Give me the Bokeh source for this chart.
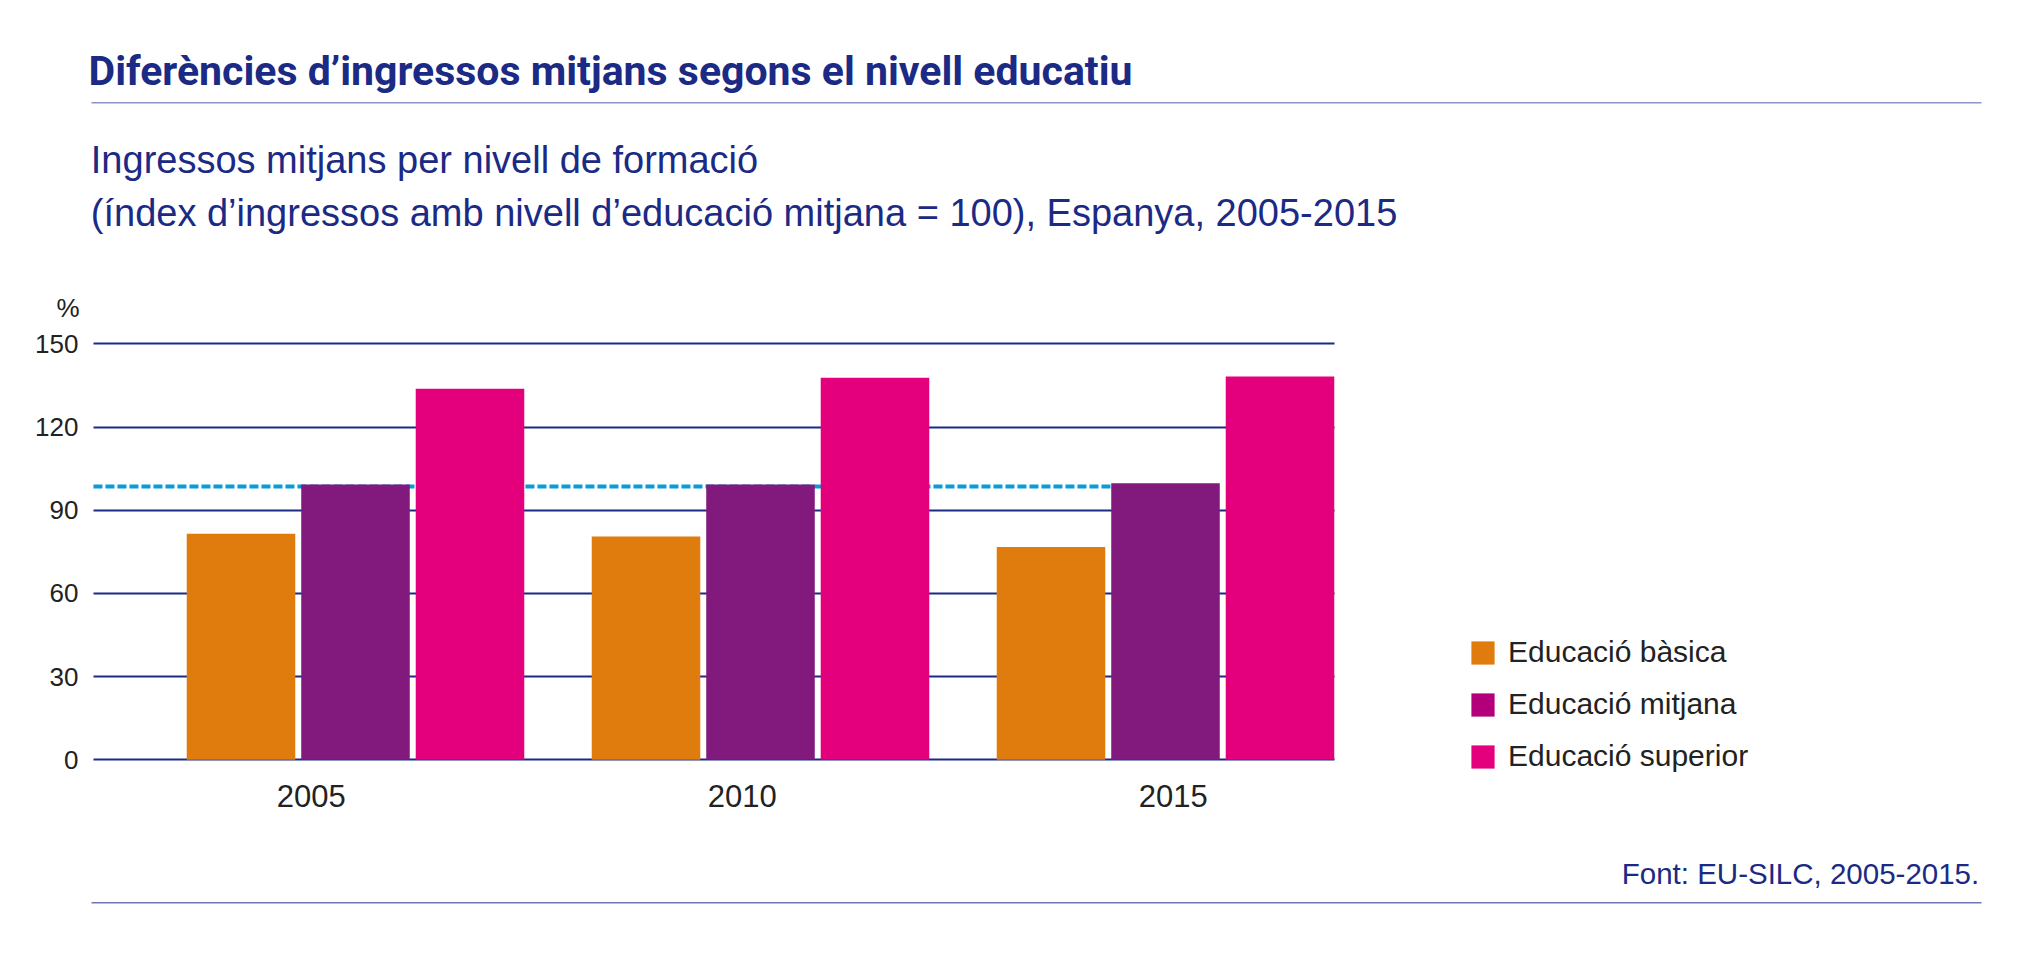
from bokeh.plotting import figure
from bokeh.models import (Range1d, FixedTicker, CustomJSTickFormatter,
                          Legend, LegendItem, ColumnDataSource)
from bokeh.core.properties import value
from bokeh.embed import file_html
from bokeh.resources import INLINE

# ---------------- data ----------------
years = ["2005", "2010", "2015"]
series_names = ["Educació bàsica", "Educació mitjana", "Educació superior"]
basica = [81.5, 80.5, 76.7]
mitjana = [99.3, 99.3, 99.7]
superior = [133.8, 137.8, 138.2]
reference_level = 98.6
y_ticks = [0, 30, 60, 90, 120, 150]

title_text = "Diferències d’ingressos mitjans segons el nivell educatiu"
subtitle_1 = "Ingressos mitjans per nivell de formació"
subtitle_2 = "(índex d’ingressos amb nivell d’educació mitjana = 100), Espanya, 2005-2015"
unit_text = "%"
source_text = "Font: EU-SILC, 2005-2015."

# ---------------- style / layout ----------------
NAVY = "#1B2A84"
TEXT = "#222222"
bar_colors = ["#E07B0E", "#821A7D", "#E4007C"]
legend_colors = ["#E07B0E", "#B3007A", "#E4007C"]
FONT = "Liberation Sans"
W, H = 2014, 939

bar_w = 0.268
bar_step = 0.2827
label_first = -0.109
label_pitch = 1.064
plot_x = (-0.647, 2.417)          # extent of the chart area in category units

p = figure(width=W, height=H, min_border=0,
           x_range=Range1d(-0.87654, 4.09630), y_range=Range1d(-64.804, 273.819),
           toolbar_location=None, output_backend="svg", outline_line_color=None)
# pixel space for the page decorations
p.extra_x_ranges = {"px": Range1d(0, W)}
p.extra_y_ranges = {"px": Range1d(H, 0)}

n = len(years)
idx = list(range(n))

# grid
p.xgrid.visible = False
p.ygrid.ticker = FixedTicker(ticks=y_ticks)
p.ygrid.bounds = (min(y_ticks), max(y_ticks))
p.ygrid.cross_bounds = plot_x
p.ygrid.grid_line_color = NAVY
p.ygrid.grid_line_width = 2

# reference dashed line (under the bars)
p.line(x=[plot_x[0], (n - 1) + bar_w / 2], y=[reference_level, reference_level],
       line_color="#0A9BD8", line_width=4, line_dash="9 3")

for k, vals in enumerate([basica, mitjana, superior]):
    src = ColumnDataSource(dict(x=[i + (k - 1) * bar_step for i in idx], top=vals))
    p.vbar(x="x", top="top", bottom=0, width=bar_w, source=src,
           fill_color=bar_colors[k], line_color=None)

# y axis
p.yaxis.fixed_location = plot_x[0]
p.yaxis.ticker = FixedTicker(ticks=y_ticks)
p.yaxis.bounds = (min(y_ticks), max(y_ticks))
p.yaxis.axis_line_color = None
p.yaxis.major_tick_line_color = None
p.yaxis.minor_tick_line_color = None
p.yaxis.major_tick_out = 0
p.yaxis.major_tick_in = 0
p.yaxis.major_label_standoff = 15
p.yaxis.major_label_text_font = FONT
p.yaxis.major_label_text_font_size = "26px"
p.yaxis.major_label_text_color = TEXT

# x axis
label_ticks = [label_first + i * label_pitch for i in idx]
p.xaxis.fixed_location = 0
p.xaxis.ticker = FixedTicker(ticks=label_ticks)
p.xaxis.formatter = CustomJSTickFormatter(args=dict(years=years), code="return years[index]")
p.xaxis.axis_line_color = None
p.xaxis.major_tick_line_color = None
p.xaxis.minor_tick_line_color = None
p.xaxis.major_tick_out = 0
p.xaxis.major_tick_in = 0
p.xaxis.major_label_standoff = 25
p.xaxis.major_label_text_font = FONT
p.xaxis.major_label_text_font_size = "31px"
p.xaxis.major_label_text_color = TEXT

# page texts and rules (pixel space)
px = dict(x_range_name="px", y_range_name="px")
p.text(x=[88], y=[70], text=[title_text], text_font=value("Roboto"),
       text_font_style="bold", text_font_size="41px", text_color=NAVY,
       text_baseline="alphabetic", **px)
p.segment(x0=[91], y0=[102.3], x1=[1981], y1=[102.3], line_color="#8C95C5",
          line_width=1.6, **px)
p.text(x=[90.3, 90.3], y=[159.8, 212.2], text=[subtitle_1, subtitle_2],
       text_font=value(FONT), text_font_size="38px", text_color=NAVY,
       text_baseline="alphabetic", **px)
p.text(x=[79], y=[307], text=[unit_text], text_font=value(FONT), text_font_size="26px",
       text_color=TEXT, text_align="right", text_baseline="alphabetic", **px)
p.text(x=[1978.7], y=[873.3], text=[source_text], text_font=value(FONT),
       text_font_size="29.5px", text_color=NAVY, text_align="right",
       text_baseline="alphabetic", **px)
p.segment(x0=[91], y0=[902.3], x1=[1981], y1=[902.3], line_color="#6E79B6",
          line_width=1.6, **px)

# legend (swatch renderers of zero size carry the legend colours)
items = []
for name, col in zip(series_names, legend_colors):
    r = p.vbar(x=[0], top=[0], bottom=[0], width=0, fill_color=col, line_color=None)
    items.append(LegendItem(label=name, renderers=[r]))
legend = Legend(items=items, location=(1468, 166), glyph_width=29, glyph_height=29,
                label_standoff=11, spacing=18, padding=0, margin=0,
                border_line_color=None, background_fill_alpha=0,
                label_text_font=FONT, label_text_font_size="30px",
                label_text_color=TEXT, label_height=29)
p.add_layout(legend)

open("out.html", "w").write(file_html(p, INLINE))
